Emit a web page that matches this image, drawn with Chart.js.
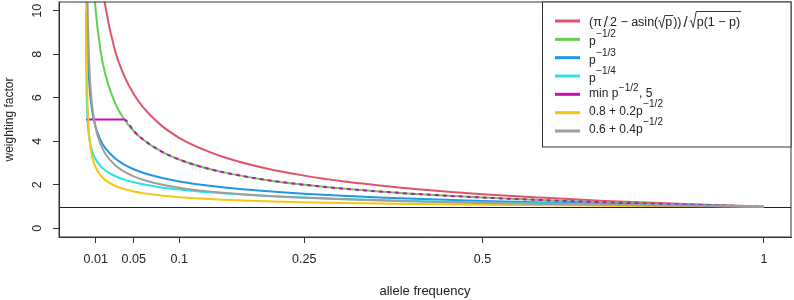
<!DOCTYPE html>
<html lang="en">
<head>
<meta charset="UTF-8">
<title>Weighting factor by allele frequency</title>
<script src="https://cdn.jsdelivr.net/npm/chart.js"></script>
<style>
  html, body { margin: 0; padding: 0; background: #fff; }
</style>
</head>
<body>
<canvas id="weights" width="794" height="300"></canvas>

<script>
// allele frequency grid and the value of each weighting curve read at those points
const freq = [0.0001, 0.0002, 0.0003, 0.0005, 0.0007, 0.001, 0.0015, 0.002, 0.003, 0.004, 0.005, 0.007,
              0.01, 0.015, 0.02, 0.03, 0.04, 0.05, 0.06, 0.08, 0.1, 0.125, 0.15, 0.2, 0.25, 0.3, 0.35,
              0.4, 0.5, 0.6, 0.7, 0.8, 0.9, 1];
const asinW = [156.1, 110.1, 89.70, 69.26, 58.39, 48.70, 39.59, 34.16, 27.72, 23.88, 21.27, 17.84,
               14.78, 11.91, 10.21, 8.19, 6.99, 6.17, 5.57, 4.73, 4.16, 3.66, 3.29, 2.77, 2.42, 2.16, 1.97,
               1.81, 1.57, 1.40, 1.26, 1.16, 1.07, 1.00];
const invSqrt = [100, 70.71, 57.74, 44.72, 37.80, 31.62, 25.82, 22.36, 18.26, 15.81, 14.14, 11.95,
                 10.00, 8.165, 7.071, 5.774, 5.000, 4.472, 4.082, 3.536, 3.162, 2.828, 2.582, 2.236, 2.000, 1.826, 1.690,
                 1.581, 1.414, 1.291, 1.195, 1.118, 1.054, 1.000];
const invCbrt = [21.54, 17.10, 14.94, 12.60, 11.26, 10.00, 8.736, 7.937, 6.934, 6.300, 5.848, 5.228,
                 4.642, 4.055, 3.684, 3.218, 2.924, 2.714, 2.554, 2.321, 2.154, 2.000, 1.882, 1.710, 1.587, 1.494, 1.419,
                 1.357, 1.260, 1.186, 1.126, 1.077, 1.036, 1.000];
const invQrt = [10.00, 8.409, 7.598, 6.687, 6.148, 5.623, 5.081, 4.729, 4.273, 3.976, 3.761, 3.457,
                3.162, 2.857, 2.659, 2.403, 2.236, 2.115, 2.021, 1.880, 1.778, 1.682, 1.607, 1.495, 1.414, 1.351, 1.300,
                1.257, 1.189, 1.136, 1.093, 1.057, 1.027, 1.000];
const capped = [5, 5, 5, 5, 5, 5, 5, 5, 5, 5, 5, 5,
                5, 5, 5, 5, 5, 4.472, 4.082, 3.536, 3.162, 2.828, 2.582, 2.236, 2.000, 1.826, 1.690,
                1.581, 1.414, 1.291, 1.195, 1.118, 1.054, 1.000];
const shrink80 = [20.8, 14.94, 12.35, 9.744, 8.360, 7.124, 5.964, 5.272, 4.452, 3.962, 3.628, 3.190,
                  2.800, 2.433, 2.214, 1.955, 1.800, 1.694, 1.616, 1.507, 1.432, 1.366, 1.316, 1.247, 1.200, 1.165, 1.138,
                  1.116, 1.083, 1.058, 1.039, 1.024, 1.011, 1.000];
const shrink60 = [40.6, 28.88, 23.70, 18.49, 15.72, 13.25, 10.93, 9.544, 7.904, 6.924, 6.256, 5.380,
                  4.600, 3.866, 3.428, 2.910, 2.600, 2.389, 2.233, 2.014, 1.865, 1.731, 1.633, 1.494, 1.400, 1.330, 1.276,
                  1.232, 1.166, 1.116, 1.078, 1.047, 1.022, 1.000];

const xTicks = [0.01, 0.05, 0.1, 0.25, 0.5, 1];
const yTicks = [0, 2, 4, 6, 8, 10];
const refLevel = 1;

const colors = ['#DF536B', '#61D04F', '#2297E6', '#28E2E5', '#CD0BBC', '#F5C710', '#9E9E9E'];

// legend labels: n = normal text, s = superscript, r = under a square root, d = division slash
const legendLabels = [
  [['n', '(π'], ['d', '/'], ['n', '2 − asin('], ['r', 'p'], ['n', '))'], ['d', '/'], ['r', 'p(1 − p)']],
  [['n', 'p'], ['s', '−1/2']],
  [['n', 'p'], ['s', '−1/3']],
  [['n', 'p'], ['s', '−1/4']],
  [['n', 'min p'], ['s', '−1/2'], ['n', ', 5']],
  [['n', '0.8 + 0.2p'], ['s', '−1/2']],
  [['n', '0.6 + 0.4p'], ['s', '−1/2']]
];

const FONT = "'Liberation Sans', Arial, sans-serif";
const INK = '#222';

// x axis is spaced like log(1 + p)
class Log1pScale extends Chart.LinearScale {
  getPixelForValue(value) {
    if (value === null || value === undefined) return NaN;
    const a = Math.log1p(this.min), b = Math.log1p(this.max);
    return this.getPixelForDecimal((Math.log1p(value) - a) / (b - a));
  }
  getValueForPixel(pixel) {
    const a = Math.log1p(this.min), b = Math.log1p(this.max);
    return Math.expm1(a + this.getDecimalForPixel(pixel) * (b - a));
  }
}
Log1pScale.id = 'log1p';
Log1pScale.defaults = Chart.LinearScale.defaults;
Chart.register(Log1pScale);

function pts(ys) {
  return freq.map((p, i) => ({ x: p, y: ys[i] }));
}

const series = [asinW, invSqrt, invCbrt, invQrt, capped, shrink80, shrink60];
const datasets = series.map((ys, i) => ({
  data: pts(ys),
  borderColor: colors[i],
  borderWidth: 2,
  pointRadius: 0,
  fill: false,
  cubicInterpolationMode: 'monotone',
  clip: 0,
  order: series.length - i
}));
// the capped curve is dashed where it follows p^-1/2
datasets[4].segment = {
  borderDash: c => (c.p0.parsed.y === 5 && c.p1.parsed.y === 5) ? [] : [4, 4]
};

function drawRadical(ctx, x, base, txt) {
  const w = ctx.measureText(txt).width;
  const top = base - (/[(0-9]/.test(txt) ? 14 : 10);
  ctx.beginPath();
  ctx.moveTo(x, base - 4);
  ctx.lineTo(x + 1.5, base - 5);
  ctx.lineTo(x + 3.5, base + 2);
  ctx.lineTo(x + 6.5, top);
  ctx.lineTo(x + 8 + w, top);
  ctx.lineWidth = 0.9;
  ctx.stroke();
  ctx.fillText(txt, x + 7, base);
  return x + 8 + w;
}

const decor = {
  id: 'decor',
  beforeDatasetsDraw(chart) {
    const { ctx, chartArea: a, scales: { y } } = chart;
    const yy = Math.round(y.getPixelForValue(refLevel)) + 0.5;
    ctx.save();
    ctx.strokeStyle = INK;
    ctx.lineWidth = 1;
    ctx.beginPath();
    ctx.moveTo(a.left, yy);
    ctx.lineTo(a.right, yy);
    ctx.stroke();
    ctx.restore();
  },
  afterDraw(chart) {
    const { ctx, chartArea: a, scales: { y } } = chart;
    ctx.save();
    // plot box
    ctx.strokeStyle = '#333';
    ctx.lineWidth = 1;
    ctx.strokeRect(a.left, a.top, a.right - a.left, a.bottom - a.top);

    // y tick labels, turned like the axis title
    ctx.fillStyle = INK;
    ctx.font = '12.5px ' + FONT;
    ctx.textAlign = 'center';
    ctx.textBaseline = 'middle';
    yTicks.forEach(v => {
      ctx.save();
      ctx.translate(37.5, y.getPixelForValue(v));
      ctx.rotate(-Math.PI / 2);
      ctx.fillText(String(v), 0, 0);
      ctx.restore();
    });

    // legend
    const lx = 542.5, ly = a.top, lw = a.right - lx, lh = 145;
    ctx.fillStyle = '#fff';
    ctx.fillRect(lx, ly, lw, lh);
    ctx.strokeStyle = '#333';
    ctx.strokeRect(lx, ly, lw, lh);

    const baseOff = [4.5, 6, 6, 6, 2.5, 2.5, 2.5];
    const rise = [0, 8, 8, 8, 5.5, 8.5, 8.5];
    ctx.textAlign = 'left';
    ctx.textBaseline = 'alphabetic';
    legendLabels.forEach((parts, i) => {
      const ry = 21 + i * 18.33;
      ctx.strokeStyle = colors[i];
      ctx.lineWidth = 3;
      ctx.beginPath();
      ctx.moveTo(555, ry);
      ctx.lineTo(580, ry);
      ctx.stroke();

      let x = 589;
      const base = ry + baseOff[i];
      ctx.fillStyle = INK;
      ctx.strokeStyle = INK;
      parts.forEach(([kind, txt]) => {
        if (kind === 's') {
          ctx.font = '10px ' + FONT;
          ctx.fillText(txt, x + 0.5, base - rise[i]);
          x += ctx.measureText(txt).width + 1;
        } else if (kind === 'r') {
          ctx.font = '12.5px ' + FONT;
          x = drawRadical(ctx, x, base, txt);
        } else if (kind === 'd') {
          ctx.font = '15px ' + FONT;
          ctx.fillText(txt, x + 2, base + 1);
          x += ctx.measureText(txt).width + 4;
        } else {
          ctx.font = (i === 0 ? '12.5px ' : '12px ') + FONT;
          ctx.fillText(txt, x, base);
          x += ctx.measureText(txt).width;
        }
      });
    });
    ctx.restore();
  }
};

new Chart(document.getElementById('weights'), {
  type: 'line',
  data: { datasets },
  options: {
    responsive: false,
    devicePixelRatio: 1,
    animation: false,
    layout: { padding: { left: 0, right: 3, top: 2, bottom: 0 } },
    plugins: {
      legend: { display: false },
      tooltip: { enabled: false }
    },
    scales: {
      x: {
        type: 'log1p',
        min: -0.0272,
        max: 1.0562,
        bounds: 'data',
        afterBuildTicks: s => { s.ticks = xTicks.map(v => ({ value: v })); },
        afterFit: s => { s.height = 63; },
        ticks: {
          autoSkip: false,
          maxRotation: 0,
          padding: 9,
          color: INK,
          font: { family: FONT, size: 12.5 },
          callback: v => String(v)
        },
        grid: { drawOnChartArea: false, tickLength: 6, color: '#333' },
        border: { display: true, color: '#333' },
        title: {
          display: true,
          text: 'allele frequency',
          color: INK,
          font: { family: FONT, size: 13 },
          padding: { top: 0, bottom: 1 }
        }
      },
      y: {
        type: 'linear',
        min: -0.4,
        max: 10.4,
        bounds: 'data',
        afterBuildTicks: s => { s.ticks = yTicks.map(v => ({ value: v })); },
        afterFit: s => { s.width = 59; },
        ticks: { display: false },
        grid: { drawOnChartArea: false, tickLength: 6, color: '#333' },
        border: { display: true, color: '#333' },
        title: {
          display: true,
          text: 'weighting factor',
          color: INK,
          font: { family: FONT, size: 12 },
          padding: { top: 2, bottom: 0 }
        }
      }
    }
  },
  plugins: [decor]
});
</script>
</body>
</html>
